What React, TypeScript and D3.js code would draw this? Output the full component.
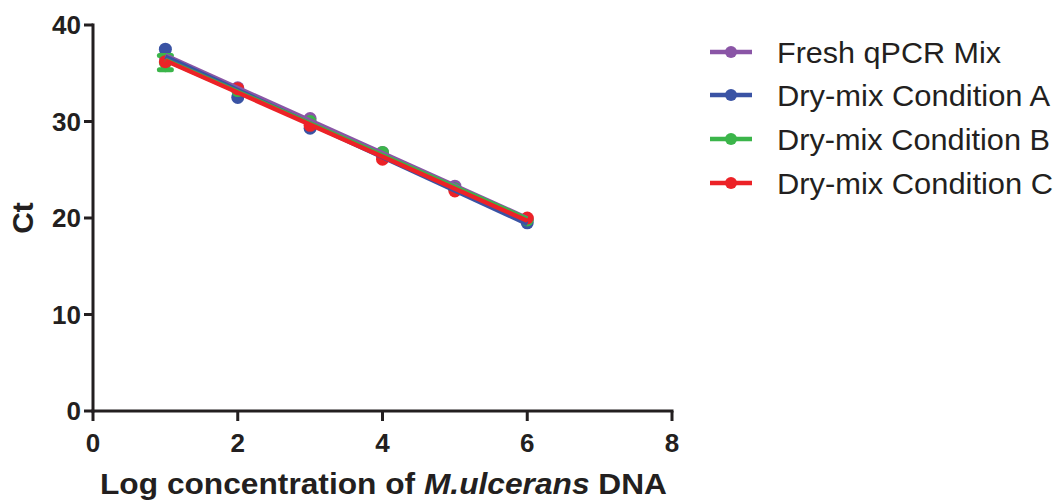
import React from "react";
import * as d3 from "d3";

const logConc = [1, 2, 3, 4, 5, 6];
const seriesNames = ["Fresh qPCR Mix", "Dry-mix Condition A", "Dry-mix Condition B", "Dry-mix Condition C"];
const seriesColors = ["#8a55a6", "#3a53a4", "#3bb54a", "#ec2227"];
const freshCt = [36.7, 33.5, 30.3, 26.8, 23.3, 19.9];
const condACt = [37.5, 32.5, 29.3, 26.5, 23.0, 19.5];
const condBCt = [36.1, 33.2, 30.0, 26.8, 23.0, 19.8];
const condCCt = [36.2, 33.4, 29.6, 26.1, 22.8, 20.0];
const condBErr = [0.75, 0, 0, 0, 0, 0];
const xTicks = [0, 2, 4, 6, 8];
const yTicks = [0, 10, 20, 30, 40];

const W = 1053, H = 500;
const left = 93, right = 672, top = 25, bottom = 411;
const ink = "#231f20";
const font = "'Liberation Sans', Arial, sans-serif";

function fit(xs: number[], ys: number[]) {
  const mx = d3.mean(xs)!, my = d3.mean(ys)!;
  let sxy = 0, sxx = 0;
  xs.forEach((x, i) => { sxy += (x - mx) * (ys[i] - my); sxx += (x - mx) ** 2; });
  const b = sxy / sxx;
  return { b, a: my - b * mx };
}

export default function App() {
  const x = d3.scaleLinear().domain([0, 8]).range([left, right]);
  const y = d3.scaleLinear().domain([0, 40]).range([bottom, top]);
  const all = [freshCt, condACt, condBCt, condCCt];
  const errs = [null, null, condBErr, null];
  const line = d3.line<[number, number]>().x(d => x(d[0])).y(d => y(d[1]));
  const legendY = [52, 95, 139, 183];
  const legendLen = [224, 273, 273, 276];

  return (
    <svg width={W} height={H} style={{ position: "absolute", left: 0, top: 0, background: "#fff" }} fontFamily={font}>
      {all.map((vals, si) => {
        const e = errs[si];
        return (
          <g key={si}>
            {e && logConc.map((c, i) => e[i] > 0 ? (
              <g key={"e" + i} stroke={seriesColors[si]} strokeWidth={5} strokeLinecap="round">
                <line x1={x(c)} x2={x(c)} y1={y(vals[i] - e[i])} y2={y(vals[i] + e[i])} />
                <line x1={x(c) - 6} x2={x(c) + 6} y1={y(vals[i] - e[i])} y2={y(vals[i] - e[i])} />
                <line x1={x(c) - 6} x2={x(c) + 6} y1={y(vals[i] + e[i])} y2={y(vals[i] + e[i])} />
              </g>
            ) : null)}
            {logConc.map((c, i) => (
              <circle key={i} cx={x(c)} cy={y(vals[i])} r={6.5} fill={seriesColors[si]} />
            ))}
          </g>
        );
      })}
      {all.map((vals, si) => {
        const f = fit(logConc, vals);
        const pts: [number, number][] = [[1, f.a + f.b * 1], [6, f.a + f.b * 6]];
        return <path key={"l" + si} d={line(pts)!} stroke={seriesColors[si]} strokeWidth={4.5} fill="none" />;
      })}
      <g stroke={ink} strokeWidth={3}>
        <line x1={left} x2={left} y1={top - 1.5} y2={bottom + 1.5} />
        <line x1={left - 1.5} x2={right + 1.5} y1={bottom} y2={bottom} />
        {yTicks.map(t => <line key={t} x1={left - 9} x2={left} y1={y(t)} y2={y(t)} />)}
        {xTicks.map(t => <line key={t} x1={x(t)} x2={x(t)} y1={bottom} y2={bottom + 10} />)}
      </g>
      <g fontWeight="bold" fontSize={26} fill={ink}>
        {yTicks.map(t => <text key={t} x={left - 12} y={y(t)} dy="0.36em" textAnchor="end">{t}</text>)}
        {xTicks.map(t => <text key={t} x={x(t)} y={452} textAnchor="middle">{t}</text>)}
      </g>
      <text transform={`translate(33,${(top + bottom) / 2}) rotate(-90)`} textAnchor="middle" fontWeight="bold" fontSize={30} fill={ink}>Ct</text>
      <text x={100} y={494} fontWeight="bold" fontSize={29} fill={ink} textLength={567} lengthAdjust="spacingAndGlyphs">
        Log concentration of  <tspan fontStyle="italic">M.ulcerans</tspan> DNA
      </text>
      {seriesNames.map((n, i) => (
        <g key={n}>
          <line x1={710} x2={752} y1={legendY[i]} y2={legendY[i]} stroke={seriesColors[i]} strokeWidth={4.5} />
          <circle cx={731} cy={legendY[i]} r={6} fill={seriesColors[i]} />
          <text x={777} y={legendY[i]} dy="0.36em" fontSize={30} fill={ink} textLength={legendLen[i]} lengthAdjust="spacingAndGlyphs">{n}</text>
        </g>
      ))}
    </svg>
  );
}
